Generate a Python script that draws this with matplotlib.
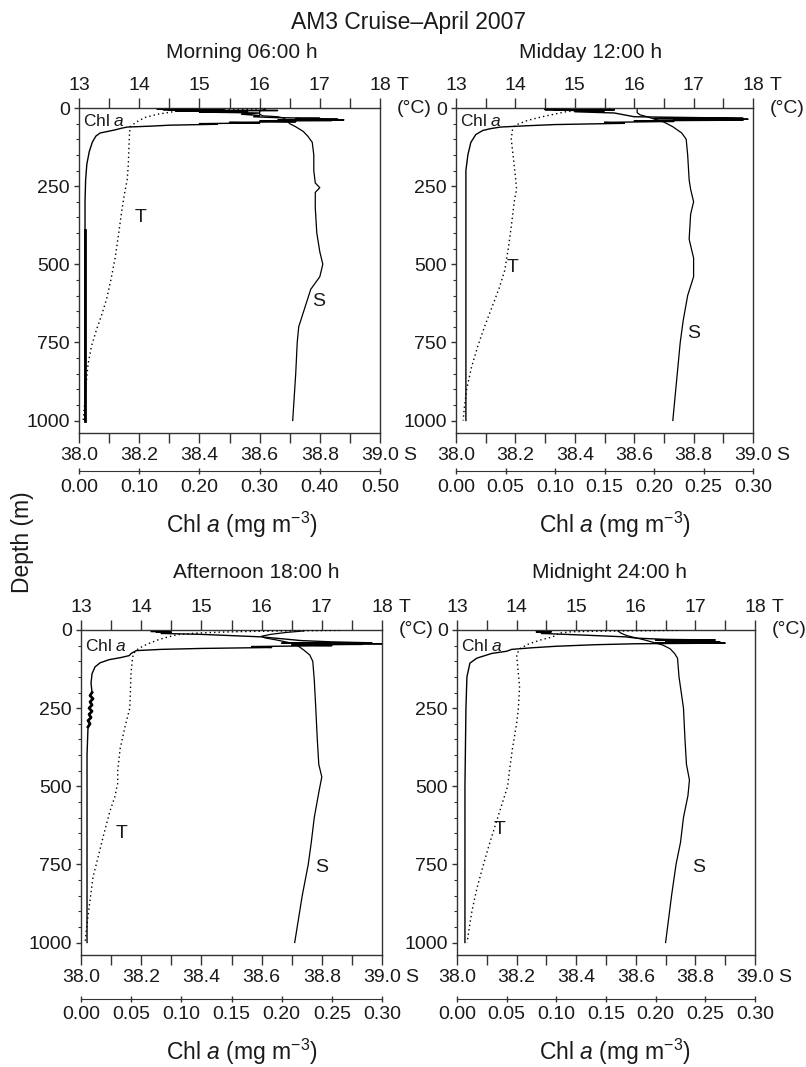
import numpy as np
import matplotlib
matplotlib.use("Agg")
import matplotlib.pyplot as plt

plt.rcParams['font.family'] = ['Liberation Sans', 'DejaVu Sans']
plt.rcParams['mathtext.fontset'] = 'custom'
plt.rcParams['mathtext.rm'] = 'Liberation Sans'
plt.rcParams['mathtext.it'] = 'Liberation Sans:italic'
plt.rcParams['text.color'] = '#1a1a1a'
plt.rcParams['xtick.color'] = '#1a1a1a'
plt.rcParams['ytick.color'] = '#1a1a1a'

# ---- Morning 06:00 h ----
morning_s_depth = [3, 10, 20, 25, 28, 32, 40, 50, 60, 75, 90, 110, 150, 200, 240, 255, 270,
                   320, 400, 460, 500, 540, 580, 640, 700, 750, 850, 1000]
morning_s = [38.62, 38.60, 38.60, 38.61, 38.66, 38.68, 38.69, 38.70, 38.72, 38.745, 38.76,
             38.775, 38.78, 38.78, 38.785, 38.80, 38.785, 38.785, 38.79, 38.80, 38.81, 38.80,
             38.77, 38.75, 38.73, 38.725, 38.72, 38.71]
morning_t_depth = [3, 6, 9, 14, 20, 30, 45, 60, 80, 120, 180, 230, 280, 330, 400, 480, 550,
                   610, 660, 710, 760, 820, 880, 930, 1000]
morning_t = [16.1, 15.3, 14.65, 14.5, 14.3, 14.1, 13.95, 13.85, 13.84, 13.83, 13.82, 13.80,
             13.75, 13.71, 13.66, 13.60, 13.53, 13.46, 13.38, 13.29, 13.21, 13.15, 13.12,
             13.10, 13.07]
morning_c_depth = [4, 5, 5.5, 6, 7, 8, 9, 11, 13, 16, 20, 24, 28, 31, 33, 34, 36, 37, 38, 39,
                   40, 42, 44, 46, 48, 50, 52, 55, 58, 61, 65, 70, 80, 90, 110, 140, 180, 230,
                   300, 390, 1000]
morning_c = [0.13, 0.20, 0.14, 0.24, 0.15, 0.33, 0.16, 0.28, 0.20, 0.30, 0.27, 0.30, 0.29,
             0.33, 0.40, 0.36, 0.43, 0.38, 0.44, 0.33, 0.42, 0.30, 0.36, 0.25, 0.30, 0.20,
             0.23, 0.15, 0.12, 0.08, 0.07, 0.06, 0.035, 0.028, 0.022, 0.017, 0.013, 0.011,
             0.010, 0.010, 0.010]

# ---- Midday 12:00 h ----
midday_s_depth = [3, 15, 22, 27, 33, 45, 60, 80, 100, 150, 230, 260, 300, 340, 420, 480, 540,
                  600, 680, 750, 850, 1000]
midday_s = [38.61, 38.61, 38.62, 38.64, 38.66, 38.70, 38.73, 38.76, 38.775, 38.78, 38.785,
            38.79, 38.80, 38.79, 38.785, 38.80, 38.80, 38.78, 38.765, 38.755, 38.745, 38.73]
midday_t_depth = [3, 7, 12, 18, 28, 40, 55, 70, 100, 150, 220, 260, 300, 380, 450, 520, 580,
                  640, 700, 760, 830, 900, 960, 1000]
midday_t = [15.6, 15.1, 14.85, 14.7, 14.45, 14.2, 14.0, 13.95, 13.93, 13.96, 14.0, 14.02,
            13.98, 13.93, 13.88, 13.82, 13.72, 13.60, 13.48, 13.37, 13.26, 13.18, 13.14, 13.12]
midday_c_depth = [4, 5, 5.5, 6, 7, 9, 12, 16, 22, 28, 31, 33, 34, 36, 37, 39, 41, 43, 46, 49,
                  53, 57, 61, 66, 72, 85, 110, 150, 200, 300, 500, 800, 1000]
midday_c = [0.09, 0.115, 0.09, 0.16, 0.10, 0.15, 0.12, 0.16, 0.17, 0.18, 0.25, 0.29, 0.20,
            0.295, 0.22, 0.29, 0.18, 0.22, 0.15, 0.17, 0.10, 0.07, 0.045, 0.035, 0.027, 0.02,
            0.015, 0.012, 0.010, 0.010, 0.010, 0.010, 0.010]

# ---- Afternoon 18:00 h ----
afternoon_s_depth = [3, 8, 14, 20, 25, 32, 40, 50, 64, 80, 100, 160, 250, 350, 430, 470, 520,
                     600, 680, 750, 850, 1000]
afternoon_s = [38.74, 38.68, 38.63, 38.60, 38.61, 38.65, 38.69, 38.72, 38.74, 38.76, 38.77,
               38.775, 38.78, 38.785, 38.79, 38.80, 38.79, 38.775, 38.765, 38.755, 38.735, 38.71]
afternoon_t_depth = [1, 2, 3, 4, 5, 7, 10, 15, 22, 30, 45, 60, 75, 100, 140, 200, 250, 310,
                     380, 450, 490, 535, 580, 660, 730, 790, 865, 940, 995]
afternoon_t = [17.3, 16.9, 16.4, 16.0, 15.7, 15.3, 14.9, 14.6, 14.45, 14.3, 14.1, 13.95,
               13.87, 13.85, 13.83, 13.82, 13.81, 13.73, 13.65, 13.61, 13.61, 13.56, 13.48,
               13.37, 13.28, 13.20, 13.15, 13.10, 13.07]
afternoon_c_depth = [5, 6, 7, 9, 11, 14, 18, 22, 28, 34, 38, 41, 42, 44, 45, 46, 48, 50, 53,
                     56, 59, 62, 66, 75, 82, 88, 95, 105, 118, 140, 170, 200, 210, 220, 230,
                     240, 250, 260, 270, 280, 290, 300, 310, 400, 600, 800, 1000]
afternoon_c = [0.07, 0.09, 0.075, 0.09, 0.08, 0.12, 0.15, 0.18, 0.20, 0.22, 0.25, 0.29, 0.20,
               0.30, 0.24, 0.28, 0.21, 0.25, 0.17, 0.19, 0.12, 0.08, 0.055, 0.05, 0.048, 0.04,
               0.028, 0.019, 0.014, 0.011, 0.010, 0.011, 0.009, 0.012, 0.009, 0.011, 0.008,
               0.011, 0.008, 0.010, 0.007, 0.009, 0.007, 0.006, 0.006, 0.006, 0.006]

# ---- Midnight 24:00 h ----
midnight_s_depth = [3, 10, 18, 25, 32, 40, 48, 60, 75, 90, 150, 250, 350, 430, 480, 530, 600,
                    680, 750, 850, 1000]
midnight_s = [38.54, 38.55, 38.57, 38.60, 38.63, 38.66, 38.69, 38.715, 38.73, 38.74, 38.745,
              38.76, 38.765, 38.77, 38.78, 38.775, 38.76, 38.75, 38.735, 38.72, 38.70]
midnight_t_depth = [1, 2, 3, 4, 6, 10, 16, 22, 32, 45, 60, 80, 120, 180, 250, 300, 380, 450,
                    500, 560, 620, 700, 760, 830, 900, 960, 1000]
midnight_t = [16.7, 16.3, 15.8, 15.3, 14.9, 14.7, 14.68, 14.6, 14.4, 14.2, 14.05, 14.0, 14.02,
              14.05, 14.03, 14.0, 13.93, 13.88, 13.85, 13.75, 13.65, 13.52, 13.43, 13.33,
              13.25, 13.20, 13.17]
midnight_c_depth = [5, 6, 7, 9, 11, 14, 18, 22, 26, 30, 32, 33, 35, 37, 39, 41, 42, 44, 47,
                    52, 57, 62, 68, 75, 90, 106, 150, 250, 500, 800, 1000]
midnight_c = [0.08, 0.095, 0.08, 0.093, 0.085, 0.11, 0.14, 0.17, 0.18, 0.21, 0.26, 0.20,
              0.255, 0.21, 0.265, 0.20, 0.27, 0.18, 0.14, 0.10, 0.075, 0.055, 0.05, 0.035,
              0.02, 0.013, 0.010, 0.009, 0.008, 0.008, 0.008]

titles = ["Morning 06:00 h", "Midday 12:00 h", "Afternoon 18:00 h", "Midnight 24:00 h"]
chl_max = [0.50, 0.30, 0.30, 0.30]
chl_step = [0.10, 0.05, 0.05, 0.05]
# depth range where the chl trace is drawn heavier (noisy part of the record)
chl_thick = [(390, 1000), None, (200, 310), None]

W, H = 806, 1067
# axes boxes in pixels: x0, x1, ytop, ybottom
boxes = [(79, 380, 108, 433), (456, 753, 108, 433), (81, 382, 630, 955), (457, 755, 630, 955)]
title_x = [242, 591, 256, 609]
title_y = [53, 53, 573, 573]
xlabel_x = [242, 615, 242, 615]
xlabel_y = [525, 525, 1052, 1052]
chl_offset = [27.5, 27.5, 31.5, 31.5]
# label positions (value, depth)
t_label = [(14.02, 350), (13.96, 510), (13.68, 650), (13.72, 640)]
s_label = [(38.795, 620), (38.80, 720), (38.80, 760), (38.81, 760)]
chl_text_depth = [42, 42, 52, 52]

profiles = [
    (morning_s_depth, morning_s, morning_t_depth, morning_t, morning_c_depth, morning_c),
    (midday_s_depth, midday_s, midday_t_depth, midday_t, midday_c_depth, midday_c),
    (afternoon_s_depth, afternoon_s, afternoon_t_depth, afternoon_t, afternoon_c_depth, afternoon_c),
    (midnight_s_depth, midnight_s, midnight_t_depth, midnight_t, midnight_c_depth, midnight_c),
]

fig = plt.figure(figsize=(W / 100, H / 100), dpi=100)
fig.text(409 / W, 1 - 22 / H, "AM3 Cruise\u2013April 2007", ha='center', va='center', fontsize=16.5)
fig.text(22 / W, 1 - 542 / H, "Depth (m)", rotation=90, ha='center', va='center', fontsize=16.5)

spine_c = '#333333'
for i, (sd, s, td, t, cd, c) in enumerate(profiles):
    x0, x1, yt, yb = boxes[i]
    ax = fig.add_axes([x0 / W, 1 - yb / H, (x1 - x0) / W, (yb - yt) / H])
    ax.set_xlim(38, 39)
    ax.set_ylim(1040, 0)
    for sp in ax.spines.values():
        sp.set_color(spine_c)
        sp.set_linewidth(1.0)
    ax.plot(s, sd, color='k', lw=0.9)
    ax.set_xticks(np.arange(38.0, 39.01, 0.2))
    ax.set_xticklabels([f"{v:.1f}" for v in np.arange(38.0, 39.01, 0.2)])
    ax.set_xticks(np.arange(38.1, 39.0, 0.2), minor=True)
    ax.set_yticks(np.arange(0, 1001, 250))
    ax.set_yticks(np.arange(0, 1001, 50), minor=True)
    ax.tick_params(axis='x', which='both', direction='out', length=7, width=1,
                   labelsize=14, pad=3, top=False, color=spine_c)
    ax.tick_params(axis='y', which='major', direction='out', length=3.5, width=1,
                   labelsize=14, pad=3, color=spine_c)
    ax.tick_params(axis='y', which='minor', direction='out', length=2.5, width=0.8,
                   color=spine_c)
    ax.annotate("S", xy=(1, 0), xycoords='axes fraction', xytext=(16.5, -10),
                textcoords='offset points', ha='left', va='top', fontsize=14)
    ax.text(s_label[i][0], s_label[i][1], "S", ha='center', va='center', fontsize=14)
    ax.text(38.012, chl_text_depth[i], r"Chl $\it{a}$", ha='left', va='center', fontsize=12.5)

    # temperature axis on top
    axT = ax.twiny()
    axT.set_xlim(13, 18)
    for sp in axT.spines.values():
        sp.set_visible(False)
    axT.plot(t, td, color='k', lw=1.0, linestyle=(0, (1, 2.2)))
    axT.set_xticks(np.arange(13, 19, 1))
    axT.set_xticks(np.arange(13.5, 18, 1), minor=True)
    axT.tick_params(axis='x', which='both', direction='out', length=7, width=1,
                    labelsize=14, pad=3, color=spine_c)
    axT.annotate("T", xy=(1, 1), xycoords='axes fraction', xytext=(12, 10),
                 textcoords='offset points', ha='left', va='bottom', fontsize=14)
    axT.annotate("(\u00b0C)", xy=(1, 1), xycoords='axes fraction', xytext=(12, 0),
                 textcoords='offset points', ha='left', va='center', fontsize=14)
    axT.text(t_label[i][0], t_label[i][1], "T", ha='center', va='center', fontsize=14)

    # chlorophyll axis below
    axC = ax.twiny()
    axC.set_xlim(0, chl_max[i])
    for name, sp in axC.spines.items():
        sp.set_visible(name == 'bottom')
    axC.spines['bottom'].set_position(('outward', chl_offset[i]))
    axC.spines['bottom'].set_color(spine_c)
    axC.xaxis.set_ticks_position('bottom')
    axC.xaxis.set_label_position('bottom')
    cticks = np.arange(0, chl_max[i] + 1e-9, chl_step[i])
    axC.set_xticks(cticks)
    axC.set_xticklabels([f"{v:.2f}" for v in cticks])
    axC.tick_params(axis='x', which='major', direction='inout', length=5, width=1,
                    labelsize=14, pad=3, color=spine_c)
    axC.plot(c, cd, color='k', lw=1.0)
    if chl_thick[i] is not None:
        lo, hi = chl_thick[i]
        sel = [j for j, d in enumerate(cd) if lo <= d <= hi]
        axC.plot([c[j] for j in sel], [cd[j] for j in sel], color='k', lw=2.0)

    fig.text(title_x[i] / W, 1 - title_y[i] / H, titles[i], ha='center', va='center', fontsize=15)
    fig.text(xlabel_x[i] / W, 1 - xlabel_y[i] / H, r"Chl $\it{a}$ (mg m$^{-3}$)",
             ha='center', va='center', fontsize=16.5)

fig.savefig("out.png", dpi=100)
